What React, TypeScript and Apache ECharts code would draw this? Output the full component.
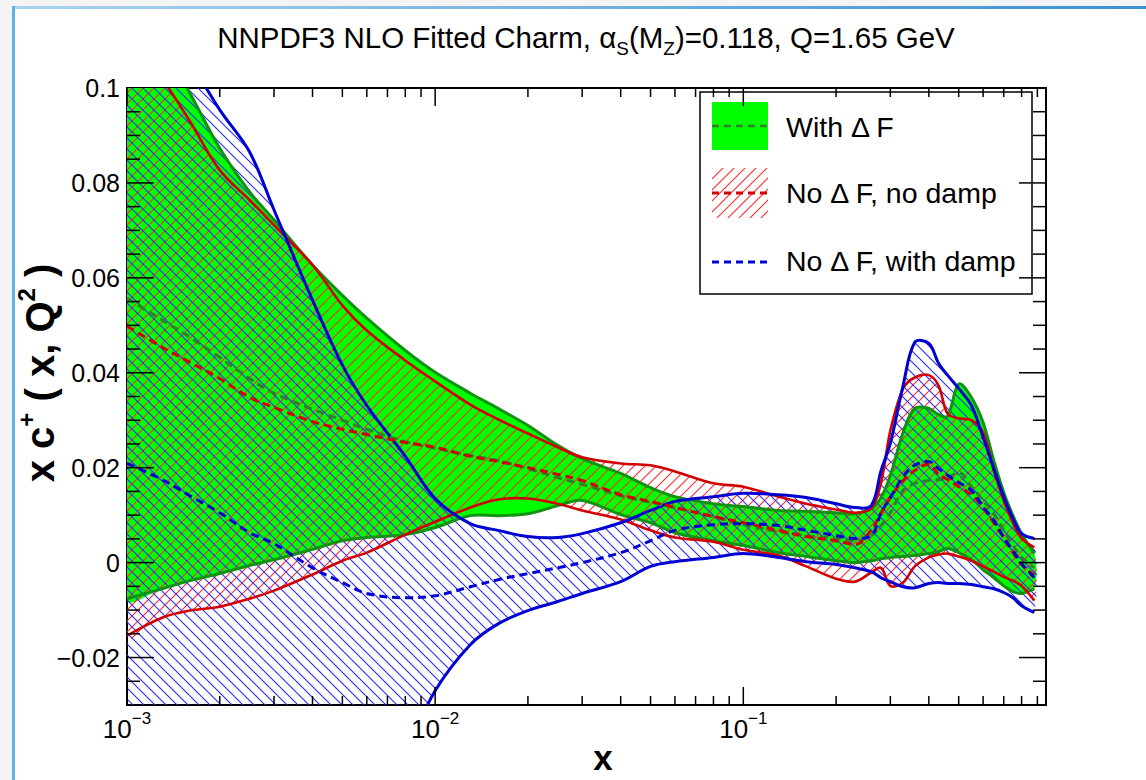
import React, { useEffect, useRef } from 'react';
import * as echarts from 'echarts';

const FONT = "'Liberation Sans', Arial, Helvetica, sans-serif";

// ---- data (x grid shared by all curves) ----
const X = [0.001, 0.0013, 0.0016, 0.002, 0.0025, 0.003, 0.004, 0.005, 0.006, 0.008,
  0.01, 0.013, 0.016, 0.02, 0.025, 0.03, 0.04, 0.05, 0.06, 0.08,
  0.1, 0.13, 0.16, 0.2, 0.23, 0.26, 0.28, 0.3, 0.33, 0.36,
  0.4, 0.43, 0.46, 0.5, 0.55, 0.6, 0.65, 0.7, 0.75, 0.8,
  0.88];

// With ΔF (green band)
const GREEN_UP = [0.125, 0.109, 0.0989, 0.0873, 0.0781, 0.0722, 0.0627, 0.0563, 0.0515, 0.0447,
  0.0401, 0.0357, 0.0325, 0.0289, 0.0247, 0.0219, 0.0188, 0.0158, 0.0139, 0.0124,
  0.0118, 0.0110, 0.0108, 0.0105, 0.0103, 0.0114, 0.0137, 0.0184, 0.0274, 0.0325,
  0.0325, 0.0312, 0.0308, 0.0376, 0.0348, 0.0295, 0.0215, 0.0148, 0.0099, 0.0061,
  0.0019];
const GREEN_LO = [-0.0076, -0.0055, -0.0038, -0.0023, -0.0006, 0.0006, 0.0028, 0.0046, 0.0053, 0.0059,
  0.0074, 0.0099, 0.0099, 0.0103, 0.0120, 0.0131, 0.0101, 0.0084, 0.0063, 0.0046,
  0.0036, 0.0021, 0.0013, 0.0004, 0.0000, 0.0004, 0.0008, 0.0011, 0.0013, 0.0015,
  0.0019, 0.0023, 0.0030, 0.0021, 0.0006, -0.0015, -0.0032, -0.0049, -0.0061, -0.0065,
  -0.0055];
const GREEN_MID = [0.0557, 0.0511, 0.0475, 0.0432, 0.0388, 0.0357, 0.0323, 0.0300, 0.0281, 0.0255,
  0.0241, 0.0226, 0.0215, 0.0198, 0.0179, 0.0165, 0.0141, 0.0127, 0.0116, 0.0097,
  0.0080, 0.0065, 0.0057, 0.0051, 0.0046, 0.0057, 0.0078, 0.0105, 0.0152, 0.0167,
  0.0173, 0.0175, 0.0179, 0.0190, 0.0160, 0.0131, 0.0103, 0.0068, 0.0036, 0.0011,
  -0.0011];

// No ΔF, no damp (red band)
const RED_UP = [0.112, 0.102, 0.0930, 0.0827, 0.0764, 0.0711, 0.0627, 0.0542, 0.0489, 0.0426,
  0.0382, 0.0333, 0.0302, 0.0272, 0.0243, 0.0222, 0.0209, 0.0205, 0.0192, 0.0167,
  0.0160, 0.0139, 0.0124, 0.0112, 0.0105, 0.0114, 0.0169, 0.0278, 0.0367, 0.0390,
  0.0395, 0.0373, 0.0314, 0.0304, 0.0300, 0.0274, 0.0194, 0.0131, 0.0084, 0.0051,
  0.0032];
const RED_LO = [-0.0154, -0.0116, -0.0101, -0.0093, -0.0076, -0.0059, -0.0025, 0.0004, 0.0021, 0.0059,
  0.0086, 0.0116, 0.0133, 0.0135, 0.0124, 0.0110, 0.0091, 0.0068, 0.0053, 0.0044,
  0.0027, 0.0015, -0.0008, -0.0034, -0.0040, -0.0021, -0.0011, -0.0049, -0.0042, -0.0008,
  0.0011, 0.0017, 0.0019, 0.0013, 0.0004, -0.0008, -0.0019, -0.0030, -0.0038, -0.0049,
  -0.0080];
const RED_MID = [0.0498, 0.0454, 0.0422, 0.0388, 0.0348, 0.0327, 0.0297, 0.0281, 0.0270, 0.0253,
  0.0243, 0.0224, 0.0213, 0.0200, 0.0186, 0.0173, 0.0143, 0.0129, 0.0116, 0.0097,
  0.0084, 0.0068, 0.0055, 0.0046, 0.0038, 0.0068, 0.0105, 0.0137, 0.0173, 0.0194,
  0.0207, 0.0186, 0.0175, 0.0160, 0.0143, 0.0116, 0.0084, 0.0053, 0.0021, -0.0004,
  -0.0027];

// No ΔF, with damp (blue band)
const BLUE_UP = [0.127, 0.115, 0.1057, 0.0954, 0.0865, 0.0743, 0.0553, 0.0416, 0.0331, 0.0224,
  0.0135, 0.0082, 0.0068, 0.0055, 0.0053, 0.0061, 0.0084, 0.0110, 0.0129, 0.0139,
  0.0146, 0.0143, 0.0137, 0.0124, 0.0116, 0.0120, 0.0194, 0.0251, 0.0373, 0.0464,
  0.0462, 0.0420, 0.0395, 0.0367, 0.0331, 0.0264, 0.0198, 0.0139, 0.0093, 0.0061,
  0.0051];
const BLUE_LO = [-0.145, -0.135, -0.125, -0.115, -0.105, -0.095, -0.080, -0.065, -0.055, -0.040,
  -0.027, -0.0173, -0.0129, -0.0101, -0.0082, -0.0065, -0.0040, -0.0008, 0.0002, 0.0011,
  0.0019, 0.0011, 0.0002, -0.0004, -0.0011, -0.0019, -0.0032, -0.0040, -0.0051, -0.0053,
  -0.0044, -0.0042, -0.0044, -0.0044, -0.0046, -0.0051, -0.0055, -0.0063, -0.0074, -0.0091,
  -0.0105];
const BLUE_MID = [0.0209, 0.0175, 0.0141, 0.0105, 0.0063, 0.0040, -0.0011, -0.0042, -0.0065, -0.0074,
  -0.0070, -0.0051, -0.0036, -0.0023, -0.0011, 0.0000, 0.0021, 0.0046, 0.0068, 0.0080,
  0.0082, 0.0078, 0.0068, 0.0057, 0.0051, 0.0057, 0.0105, 0.0137, 0.0181, 0.0205,
  0.0213, 0.0198, 0.0184, 0.0169, 0.0152, 0.0118, 0.0089, 0.0053, 0.0025, -0.0002,
  -0.0032];

// ---- axes ----
const X_MIN = 0.001;
const X_MAX = 0.96;
const Y_MIN = -0.03;
const Y_MAX = 0.1;
const X_MAJOR_TICKS = [0.001, 0.01, 0.1];
const X_MINOR_TICKS = [0.002, 0.003, 0.004, 0.005, 0.006, 0.007, 0.008, 0.009,
  0.02, 0.03, 0.04, 0.05, 0.06, 0.07, 0.08, 0.09,
  0.2, 0.3, 0.4, 0.5, 0.6, 0.7, 0.8, 0.9];
const Y_MAJOR_TICKS = [-0.02, 0, 0.02, 0.04, 0.06, 0.08];
const Y_MINOR_TICKS = [-0.025, -0.015, -0.01, -0.005, 0.005, 0.01, 0.015, 0.025, 0.03, 0.035,
  0.045, 0.05, 0.055, 0.065, 0.07, 0.075, 0.085, 0.09, 0.095];

const LEGEND_LABELS = ['With \u0394 F', 'No \u0394 F, no damp', 'No \u0394 F, with damp'];

const GREEN_FILL = '#00ff00';
const GREEN_EDGE = '#129212';
const GREEN_DASH = '#2f7f2f';
const RED_EDGE = '#d20000';
const RED_HATCH_COLOR = '#ff2a2a';
const BLUE_EDGE = '#0000d2';
const BLUE_HATCH_COLOR = '#2a2aff';
const SMOOTH = 0.35;

function hatch(color: string, forward: boolean) {
  const s = 11;
  const d = forward
    ? `M0,${s} L${s},0 M-2,2 L2,-2 M${s - 2},${s + 2} L${s + 2},${s - 2}`
    : `M0,0 L${s},${s} M-2,${s - 2} L2,${s + 2} M${s - 2},-2 L${s + 2},2`;
  const svg = `<svg xmlns='http://www.w3.org/2000/svg' width='${s}' height='${s}'><path d='${d}' stroke='${color}' stroke-width='1.1' fill='none'/></svg>`;
  return {
    image: 'data:image/svg+xml;charset=utf-8,' + encodeURIComponent(svg),
    repeat: 'repeat',
    imageWidth: s,
    imageHeight: s,
  } as any;
}

const RED_HATCH = hatch(RED_HATCH_COLOR, true);
const BLUE_HATCH = hatch(BLUE_HATCH_COLOR, false);

function bandFill(lo: number[], up: number[], fill: any, z: number) {
  return {
    type: 'custom',
    coordinateSystem: 'cartesian2d',
    clip: true,
    silent: true,
    z,
    encode: { x: 0, y: [1, 2] },
    data: X.map((x, i) => [x, lo[i], up[i]]),
    renderItem: (params: any, api: any) => {
      if (params.dataIndex !== 0) return null;
      const upPts = X.map((x, i) => api.coord([x, up[i]]));
      const loPts = X.map((x, i) => api.coord([x, lo[i]]));
      return {
        type: 'polygon',
        shape: { points: upPts.concat(loPts.slice().reverse()), smooth: SMOOTH },
        style: { fill, stroke: null },
      };
    },
  };
}

function bandEdges(lo: number[], up: number[], color: string, width: number, z: number) {
  return {
    type: 'custom',
    coordinateSystem: 'cartesian2d',
    clip: true,
    silent: true,
    z,
    encode: { x: 0, y: [1, 2] },
    data: X.map((x, i) => [x, lo[i], up[i]]),
    renderItem: (params: any, api: any) => {
      if (params.dataIndex !== 0) return null;
      const upPts = X.map((x, i) => api.coord([x, up[i]]));
      const loPts = X.map((x, i) => api.coord([x, lo[i]]));
      const st = { stroke: color, lineWidth: width, fill: null };
      return {
        type: 'group',
        children: [
          { type: 'polyline', shape: { points: upPts, smooth: SMOOTH }, style: st },
          { type: 'polyline', shape: { points: loPts, smooth: SMOOTH }, style: st },
        ],
      };
    },
  };
}

function central(mid: number[], color: string) {
  return {
    type: 'line',
    data: X.map((x, i) => [x, mid[i]]),
    smooth: SMOOTH,
    symbol: 'none',
    silent: true,
    clip: true,
    z: 5,
    lineStyle: { color, width: 3, type: [8, 5] },
  };
}

const tickData = [
  ...X_MAJOR_TICKS.map((v) => [v, Y_MIN, 0]),
  ...X_MINOR_TICKS.map((v) => [v, Y_MIN, 1]),
  ...Y_MAJOR_TICKS.map((v) => [X_MIN, v, 2]),
  ...Y_MINOR_TICKS.map((v) => [X_MIN, v, 3]),
];

function fmtY(v: number) {
  const k = Math.round(v * 100);
  if (k % 2 !== 0 || k < -2) return '';
  if (k === 0) return '0';
  return (k < 0 ? '\u2212' : '') + (Math.abs(k) / 100).toString();
}

function fmtX(v: number) {
  const l = Math.log10(v);
  const e = Math.round(l);
  if (Math.abs(l - e) > 1e-6 || v > 0.5) return '';
  return `{b|10}{e|${e < 0 ? '\u2212' : ''}${Math.abs(e)}}`;
}

function buildOption() {
  const axisLine = { show: true, onZero: false, lineStyle: { color: '#000', width: 2 } };
  return {
    animation: false,
    backgroundColor: '#ffffff',
    grid: { left: 127, right: 100, top: 88, bottom: 75, containLabel: false },
    xAxis: [
      {
        type: 'log', logBase: 10, min: X_MIN, max: X_MAX, position: 'bottom',
        axisLine, axisTick: { show: false }, splitLine: { show: false }, minorTick: { show: false },
        axisLabel: {
          formatter: fmtX, margin: 5, color: '#000',
          rich: {
            b: { fontFamily: FONT, fontSize: 26, lineHeight: 37, color: '#000' },
            e: { fontFamily: FONT, fontSize: 17, lineHeight: 17, verticalAlign: 'top', color: '#000' },
          },
        },
      },
      {
        type: 'log', logBase: 10, min: X_MIN, max: X_MAX, position: 'top',
        axisLine, axisTick: { show: false }, splitLine: { show: false }, axisLabel: { show: false },
      },
    ],
    yAxis: [
      {
        type: 'value', min: Y_MIN, max: Y_MAX, interval: 0.01, position: 'left',
        axisLine, axisTick: { show: false }, splitLine: { show: false },
        axisLabel: { formatter: fmtY, margin: 7, color: '#000', fontFamily: FONT, fontSize: 25 },
      },
      {
        type: 'value', min: Y_MIN, max: Y_MAX, interval: 0.01, position: 'right',
        axisLine, axisTick: { show: false }, splitLine: { show: false }, axisLabel: { show: false },
      },
    ],
    series: [
      bandFill(GREEN_LO, GREEN_UP, GREEN_FILL, 1),
      bandFill(RED_LO, RED_UP, RED_HATCH, 2),
      bandFill(BLUE_LO, BLUE_UP, BLUE_HATCH, 3),
      bandEdges(GREEN_LO, GREEN_UP, GREEN_EDGE, 3, 4),
      bandEdges(RED_LO, RED_UP, RED_EDGE, 2.6, 4),
      bandEdges(BLUE_LO, BLUE_UP, BLUE_EDGE, 3, 4),
      central(GREEN_MID, GREEN_DASH),
      central(RED_MID, RED_EDGE),
      central(BLUE_MID, BLUE_EDGE),
      {
        type: 'custom',
        coordinateSystem: 'cartesian2d',
        silent: true,
        z: 8,
        encode: { x: 0, y: 1 },
        data: tickData,
        renderItem: (params: any, api: any) => {
          const x = api.value(0);
          const y = api.value(1);
          const k = api.value(2);
          const st = { stroke: '#000', lineWidth: 1.5 };
          if (k < 2) {
            const b = api.coord([x, Y_MIN]);
            const t = api.coord([x, Y_MAX]);
            const L = k === 0 ? 18 : 9;
            return {
              type: 'group',
              children: [
                { type: 'line', shape: { x1: b[0], y1: b[1], x2: b[0], y2: b[1] - L }, style: st },
                { type: 'line', shape: { x1: t[0], y1: t[1], x2: t[0], y2: t[1] + L }, style: st },
              ],
            };
          }
          const l = api.coord([X_MIN, y]);
          const r = api.coord([X_MAX, y]);
          const L = k === 2 ? 27 : 13;
          return {
            type: 'group',
            children: [
              { type: 'line', shape: { x1: l[0], y1: l[1], x2: l[0] + L, y2: l[1] }, style: st },
              { type: 'line', shape: { x1: r[0], y1: r[1], x2: r[0] - L, y2: r[1] }, style: st },
            ],
          };
        },
      },
    ],
    graphic: [
      // slide decoration
      { type: 'rect', z: 0, shape: { x: 0, y: 0, width: 1146, height: 7 }, style: { fill: '#f4f4f4' } },
      { type: 'rect', z: 0, shape: { x: 0, y: 0, width: 12, height: 780 }, style: { fill: '#f4f4f4' } },
      {
        type: 'rect', z: 1, shape: { x: 14, y: 6, width: 1132, height: 3 },
        style: {
          fill: {
            type: 'linear', x: 0, y: 0, x2: 1, y2: 0,
            colorStops: [{ offset: 0, color: '#a9d4ef' }, { offset: 1, color: '#3b90d2' }],
          },
        },
      },
      { type: 'rect', z: 1, shape: { x: 12, y: 6, width: 3, height: 774 }, style: { fill: '#62b1e2' } },
      // title
      {
        type: 'text', z: 10, x: 586, y: 37,
        style: {
          text: '{n|NNPDF3 NLO Fitted Charm, \u03b1}{s|S}{n|(M}{s|Z}{n|)=0.118, Q=1.65 GeV}',
          align: 'center', verticalAlign: 'middle',
          rich: {
            n: { fontFamily: FONT, fontSize: 29.5, lineHeight: 42, fill: '#000' },
            s: { fontFamily: FONT, fontSize: 19, lineHeight: 19, verticalAlign: 'bottom', fill: '#000' },
          },
        },
      },
      // axis titles
      {
        type: 'text', z: 10, x: 603, y: 757,
        style: { text: 'x', font: `bold 35px ${FONT}`, fill: '#000', align: 'center', verticalAlign: 'middle' },
      },
      {
        type: 'text', z: 10, x: 40, y: 373, rotation: Math.PI / 2,
        style: {
          text: '{n|x c}{p|+}{n| ( x, Q}{p|2}{n| )}',
          align: 'center', verticalAlign: 'middle',
          rich: {
            n: { fontFamily: FONT, fontSize: 40, fontWeight: 'bold', lineHeight: 52, fill: '#000' },
            p: { fontFamily: FONT, fontSize: 24, fontWeight: 'bold', lineHeight: 24, verticalAlign: 'top', fill: '#000' },
          },
        },
      },
      // legend
      {
        type: 'group', z: 20,
        children: [
          { type: 'rect', shape: { x: 700, y: 92, width: 332, height: 202 }, style: { fill: '#fff', stroke: '#000', lineWidth: 1.5 } },
          { type: 'rect', shape: { x: 712, y: 102, width: 56, height: 48 }, style: { fill: GREEN_FILL } },
          { type: 'line', shape: { x1: 712, y1: 126, x2: 768, y2: 126 }, style: { stroke: GREEN_DASH, lineWidth: 2.5, lineDash: [7, 5] } },
          { type: 'rect', shape: { x: 712, y: 168, width: 56, height: 50 }, style: { fill: RED_HATCH } },
          { type: 'line', shape: { x1: 712, y1: 193, x2: 768, y2: 193 }, style: { stroke: RED_EDGE, lineWidth: 3, lineDash: [7, 5] } },
          { type: 'line', shape: { x1: 712, y1: 262, x2: 768, y2: 262 }, style: { stroke: BLUE_EDGE, lineWidth: 3, lineDash: [7, 5] } },
          { type: 'text', x: 786, y: 127, style: { text: LEGEND_LABELS[0], font: `28.5px ${FONT}`, fill: '#000', verticalAlign: 'middle' } },
          { type: 'text', x: 786, y: 193, style: { text: LEGEND_LABELS[1], font: `28.5px ${FONT}`, fill: '#000', verticalAlign: 'middle' } },
          { type: 'text', x: 786, y: 261, style: { text: LEGEND_LABELS[2], font: `28.5px ${FONT}`, fill: '#000', verticalAlign: 'middle' } },
        ],
      },
    ],
  };
}

export default function App() {
  const ref = useRef<HTMLDivElement>(null);
  useEffect(() => {
    if (!ref.current) return;
    const chart = echarts.init(ref.current, null, { renderer: 'svg' });
    chart.setOption(buildOption() as any);
    return () => chart.dispose();
  }, []);
  return (
    <div
      ref={ref}
      style={{ position: 'fixed', left: 0, top: 0, width: 1146, height: 780, background: '#fff' }}
    />
  );
}
